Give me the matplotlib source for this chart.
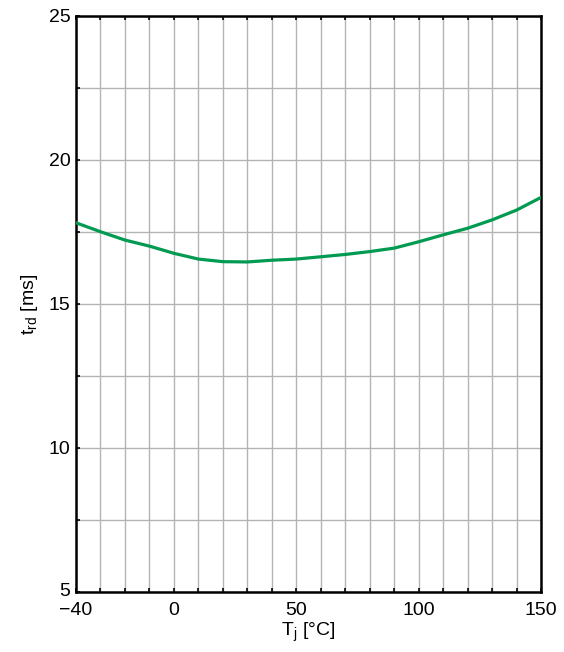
import matplotlib
matplotlib.use("Agg")
import matplotlib.pyplot as plt
import matplotlib.transforms as mtransforms
import numpy as np

plt.rcParams['font.family'] = ['Liberation Sans', 'DejaVu Sans']

temp_c = [-40, -30, -20, -10, 0, 10, 20, 30, 40, 50, 60, 70, 80, 90, 100, 110, 120, 130, 140, 150]
t_rd_ms = [17.82, 17.51, 17.22, 17.01, 16.76, 16.56, 16.47, 16.46, 16.52, 16.56, 16.64, 16.72, 16.82, 16.94, 17.16, 17.40, 17.63, 17.92, 18.26, 18.70]

x_major = [-40, 0, 50, 100, 150]
y_major = [5, 10, 15, 20, 25]

fig = plt.figure(figsize=(5.64, 6.52), dpi=100)
ax = fig.add_axes([76/564, 1-592/652, (541-76)/564, (592-16)/652])

ax.plot(temp_c, t_rd_ms, color='#009a50', linewidth=2.3, zorder=3)

ax.set_xlim(-40, 150)
ax.set_ylim(5, 25)
ax.set_xticks(x_major)
ax.set_yticks(y_major)
ax.set_xticks(np.arange(-30, 150, 10), minor=True)
ax.set_yticks([7.5, 12.5, 17.5, 22.5], minor=True)
ax.grid(True, which='both', color='#b4b4b4', linewidth=1.0, zorder=0)
ax.tick_params(which='both', direction='in', top=True, right=False, length=3, width=1.2)
ax.tick_params(axis='x', which='major', labelsize=14, pad=7)
ax.tick_params(axis='y', which='major', labelsize=14, pad=4)
for s in ax.spines.values():
    s.set_linewidth(1.8)
    s.set_color('black')

ax.set_xlabel('T$_\\mathregular{j}$ [°C]', fontsize=14, labelpad=1)
ax.set_ylabel('t$_\\mathregular{rd}$ [ms]', fontsize=14, labelpad=6)

fig.canvas.draw()
lbl5 = ax.get_yticklabels()[0]
lbl5.set_transform(lbl5.get_transform() + mtransforms.ScaledTranslation(0, 3/100, fig.dpi_scale_trans))

fig.savefig('out.png', dpi=100)
